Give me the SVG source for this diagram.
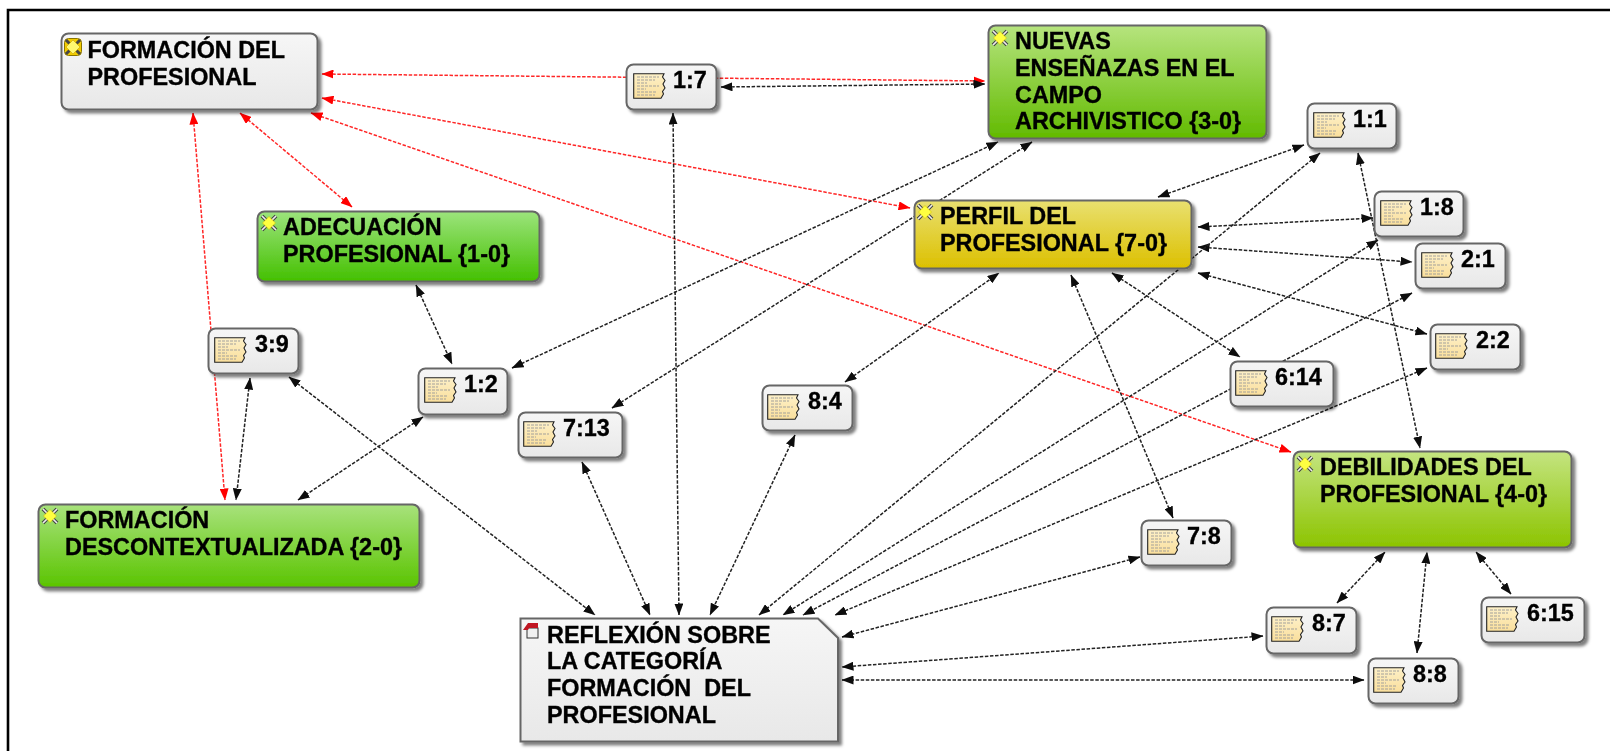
<svg xmlns="http://www.w3.org/2000/svg" width="1610" height="751" viewBox="0 0 1610 751">
<style>
text{font-family:"Liberation Sans",Arial,sans-serif;font-weight:700;font-size:23.4px;fill:#000;stroke:#000;stroke-width:.35px;white-space:pre}
.n{stroke:#666;stroke-width:2;filter:url(#sh)}
.q{fill:url(#gGray)}
.c{fill:none;stroke-width:1.5;stroke-dasharray:3.5 1.6}
.k{stroke:#222;marker-start:url(#aK);marker-end:url(#aK)}
.r{stroke:#f00;stroke-opacity:.85;marker-start:url(#aR);marker-end:url(#aR)}
</style>
<defs>
<filter id="sh" x="-10%" y="-10%" width="125%" height="130%"><feDropShadow dx="3" dy="3" stdDeviation="1.6" flood-color="#000" flood-opacity=".5"/></filter>
<filter id="soft" x="0" y="0" width="1610" height="751" filterUnits="userSpaceOnUse"><feGaussianBlur stdDeviation=".45"/></filter>
<marker id="aK" viewBox="0 0 12 9" refX="11.5" refY="4.5" markerUnits="userSpaceOnUse" markerWidth="12" markerHeight="9" orient="auto-start-reverse"><path d="M0 0L12 4.5L0 9z" fill="#111"/></marker>
<marker id="aR" viewBox="0 0 12 9" refX="11.5" refY="4.5" markerUnits="userSpaceOnUse" markerWidth="12" markerHeight="9" orient="auto-start-reverse"><path d="M0 0L12 4.5L0 9z" fill="#f00"/></marker>
<linearGradient id="gGray" x1="0" y1="0" x2="0" y2="1"><stop offset="0" stop-color="#f6f6f6"/><stop offset="1" stop-color="#e8e8e8"/></linearGradient>
<linearGradient id="gAde" x1="0" y1="0" x2="0" y2="1"><stop offset="0" stop-color="#9ce47c"/><stop offset="1" stop-color="#44c000"/></linearGradient>
<linearGradient id="gNue" x1="0" y1="0" x2="0" y2="1"><stop offset="0" stop-color="#b6e47e"/><stop offset="1" stop-color="#62ba00"/></linearGradient>
<linearGradient id="gPer" x1="0" y1="0" x2="0" y2="1"><stop offset="0" stop-color="#e9e070"/><stop offset="1" stop-color="#dcc000"/></linearGradient>
<linearGradient id="gDeb" x1="0" y1="0" x2="0" y2="1"><stop offset="0" stop-color="#c4e480"/><stop offset="1" stop-color="#8cc400"/></linearGradient>
<linearGradient id="gDes" x1="0" y1="0" x2="0" y2="1"><stop offset="0" stop-color="#a8e27c"/><stop offset="1" stop-color="#5ac400"/></linearGradient>
<linearGradient id="gPap" x1="0" y1="0" x2="0" y2="1"><stop offset="0" stop-color="#fdf0c8"/><stop offset="1" stop-color="#fadf9c"/></linearGradient>
<symbol id="doc" viewBox="0 0 33 26" width="33" height="26">
<path d="M.7 .7H31L29.5 4L32 7.5L30 11L32 15L29.5 18.5L30.5 21L28 25.3H.7z" fill="url(#gPap)" stroke="#222" stroke-width="1.1"/>
<path d="M4 4h22M4 7h18M4 10h10M4 13h22M4 16h9M4 19h20M4 22h18" stroke="#999" stroke-width=".9" stroke-dasharray="3 1" fill="none"/>
</symbol>
<symbol id="con" viewBox="0 0 18 18" width="18" height="18">
<path d="M2 2L16 16M16 2L2 16" stroke="#444" stroke-width="3.8"/>
<path d="M2 2L16 16M16 2L2 16" stroke="#eee" stroke-width="1.6"/>
<path d="M9 2.5L15.5 9L9 15.5L2.5 9z" fill="#ffff40" stroke="#d0c000" stroke-width=".6"/>
</symbol>
<symbol id="cong" viewBox="0 0 18 18" width="18" height="18">
<rect x=".5" y=".5" width="17" height="17" rx="4" fill="#f2cc00" stroke="#8a7400"/>
<path d="M2 2L16 16M16 2L2 16" stroke="#444" stroke-width="3"/>
<path d="M9 2L16 9L9 16L2 9z" fill="#fff870" stroke="#c8a000" stroke-width=".6"/>
</symbol>
<symbol id="mem" viewBox="0 0 16 16" width="16" height="16">
<rect x="4" y="5" width="11" height="10" fill="#f0f0f0" stroke="#333"/>
<path d="M0 7L5 0H15V5H6L5 7z" fill="#c01822"/>
</symbol>
</defs>
<g filter="url(#soft)">
<rect width="1610" height="751" fill="#fff"/>
<path d="M8 751V10H1610" fill="none" stroke="#000" stroke-width="2.6"/>
<g id="connectors">
<line class="c r" x1="322" y1="74" x2="985" y2="81"/>
<line class="c r" x1="322" y1="98" x2="910" y2="208"/>
<line class="c r" x1="311" y1="113" x2="1291" y2="452"/>
<line class="c r" x1="240" y1="113" x2="352" y2="207"/>
<line class="c r" x1="193" y1="113" x2="225" y2="500"/>
<line class="c k" x1="721" y1="87" x2="985" y2="84"/>
<line class="c k" x1="673" y1="113" x2="679" y2="615"/>
<line class="c k" x1="512" y1="368" x2="998" y2="142"/>
<line class="c k" x1="612" y1="408" x2="1032" y2="142"/>
<line class="c k" x1="416" y1="285" x2="452" y2="364"/>
<line class="c k" x1="423" y1="417" x2="298" y2="500"/>
<line class="c k" x1="250" y1="378" x2="236" y2="500"/>
<line class="c k" x1="289" y1="377" x2="595" y2="615"/>
<line class="c k" x1="582" y1="462" x2="650" y2="615"/>
<line class="c k" x1="795" y1="435" x2="710" y2="615"/>
<line class="c k" x1="845" y1="382" x2="999" y2="273"/>
<line class="c k" x1="1071" y1="275" x2="1173" y2="518"/>
<line class="c k" x1="1112" y1="273" x2="1240" y2="357"/>
<line class="c k" x1="1198" y1="273" x2="1427" y2="334"/>
<line class="c k" x1="1198" y1="227" x2="1373" y2="218"/>
<line class="c k" x1="1198" y1="247" x2="1412" y2="262"/>
<line class="c k" x1="1158" y1="197" x2="1304" y2="145"/>
<line class="c k" x1="1358" y1="153" x2="1420" y2="448"/>
<line class="c k" x1="1320" y1="153" x2="759" y2="615"/>
<line class="c k" x1="1378" y1="240" x2="783" y2="615"/>
<line class="c k" x1="1412" y1="293" x2="803" y2="615"/>
<line class="c k" x1="1427" y1="368" x2="835" y2="615"/>
<line class="c k" x1="1140" y1="557" x2="842" y2="637"/>
<line class="c k" x1="1263" y1="636" x2="842" y2="667"/>
<line class="c k" x1="1364" y1="680" x2="842" y2="680"/>
<line class="c k" x1="1337" y1="603" x2="1385" y2="552"/>
<line class="c k" x1="1417" y1="653" x2="1427" y2="552"/>
<line class="c k" x1="1511" y1="594" x2="1476" y2="552"/>
</g>
<g id="formacion-del-profesional"><rect class="n q" x="61.5" y="33.5" width="256" height="76" rx="7"/><use href="#cong" x="64" y="38"/><text x="87.5" y="58">FORMACIÓN DEL</text><text x="87.5" y="85">PROFESIONAL</text></g>
<g id="adecuacion"><rect class="n" fill="url(#gAde)" x="257.5" y="211.5" width="282" height="70" rx="7"/><use href="#con" x="260" y="214"/><text x="283" y="235">ADECUACIÓN</text><text x="283" y="262">PROFESIONAL {1-0}</text></g>
<g id="nuevas"><rect class="n" fill="url(#gNue)" x="988.5" y="25.5" width="278" height="113" rx="7"/><use href="#con" x="991" y="29"/><text x="1015" y="49">NUEVAS</text><text x="1015" y="76">ENSEÑAZAS EN EL</text><text x="1015" y="103">CAMPO</text><text x="1015" y="129">ARCHIVISTICO {3-0}</text></g>
<g id="perfil"><rect class="n" fill="url(#gPer)" x="914.5" y="200.5" width="277" height="68" rx="7"/><use href="#con" x="916" y="203"/><text x="940" y="224">PERFIL DEL</text><text x="940" y="251">PROFESIONAL {7-0}</text></g>
<g id="debilidades"><rect class="n" fill="url(#gDeb)" x="1293.5" y="451.5" width="278" height="96" rx="7"/><use href="#con" x="1296" y="455"/><text x="1320" y="475">DEBILIDADES DEL</text><text x="1320" y="502">PROFESIONAL {4-0}</text></g>
<g id="descontextualizada"><rect class="n" fill="url(#gDes)" x="38.5" y="504.5" width="381" height="83" rx="7"/><use href="#con" x="41" y="507"/><text x="65" y="528">FORMACIÓN</text><text x="65" y="555">DESCONTEXTUALIZADA {2-0}</text></g>
<g id="reflexion"><path class="n q" d="M520.5 618.5H818L838 638V741.5H520.5z"/><use href="#mem" x="523" y="623"/><text x="547" y="643">REFLEXIÓN SOBRE</text><text x="547" y="669">LA CATEGORÍA</text><text x="547" y="696">FORMACIÓN  DEL</text><text x="547" y="723">PROFESIONAL</text></g>
<g id="q1-7"><rect class="n q" x="626.5" y="64.5" width="90" height="45" rx="7"/><use href="#doc" x="633" y="73"/><text x="673" y="88">1:7</text></g>
<g id="q1-1"><rect class="n q" x="1307.5" y="103.5" width="89" height="45" rx="7"/><use href="#doc" x="1313" y="112"/><text x="1353" y="127">1:1</text></g>
<g id="q1-8"><rect class="n q" x="1374.5" y="191.5" width="89" height="45" rx="7"/><use href="#doc" x="1380" y="200"/><text x="1420" y="215">1:8</text></g>
<g id="q2-1"><rect class="n q" x="1415.5" y="243.5" width="90" height="45" rx="7"/><use href="#doc" x="1421" y="252"/><text x="1461" y="267">2:1</text></g>
<g id="q2-2"><rect class="n q" x="1430.5" y="324.5" width="90" height="45" rx="7"/><use href="#doc" x="1435" y="333"/><text x="1476" y="348">2:2</text></g>
<g id="q6-14"><rect class="n q" x="1230.5" y="361.5" width="103" height="45" rx="7"/><use href="#doc" x="1235" y="370"/><text x="1275" y="385">6:14</text></g>
<g id="q7-8"><rect class="n q" x="1141.5" y="520.5" width="90" height="45" rx="7"/><use href="#doc" x="1147" y="529"/><text x="1187" y="544">7:8</text></g>
<g id="q8-7"><rect class="n q" x="1266.5" y="607.5" width="90" height="46" rx="7"/><use href="#doc" x="1271" y="616"/><text x="1312" y="631">8:7</text></g>
<g id="q8-8"><rect class="n q" x="1368.5" y="658.5" width="90" height="45" rx="7"/><use href="#doc" x="1373" y="667"/><text x="1413" y="682">8:8</text></g>
<g id="q6-15"><rect class="n q" x="1481.5" y="597.5" width="103" height="45" rx="7"/><use href="#doc" x="1486" y="606"/><text x="1527" y="621">6:15</text></g>
<g id="q3-9"><rect class="n q" x="208.5" y="328.5" width="90" height="45" rx="7"/><use href="#doc" x="214" y="337"/><text x="255" y="352">3:9</text></g>
<g id="q1-2"><rect class="n q" x="418.5" y="368.5" width="89" height="46" rx="7"/><use href="#doc" x="424" y="377"/><text x="464" y="392">1:2</text></g>
<g id="q7-13"><rect class="n q" x="518.5" y="412.5" width="104" height="45" rx="7"/><use href="#doc" x="523" y="421"/><text x="563" y="436">7:13</text></g>
<g id="q8-4"><rect class="n q" x="762.5" y="385.5" width="90" height="45" rx="7"/><use href="#doc" x="767" y="394"/><text x="808" y="409">8:4</text></g>
</g>
</svg>
